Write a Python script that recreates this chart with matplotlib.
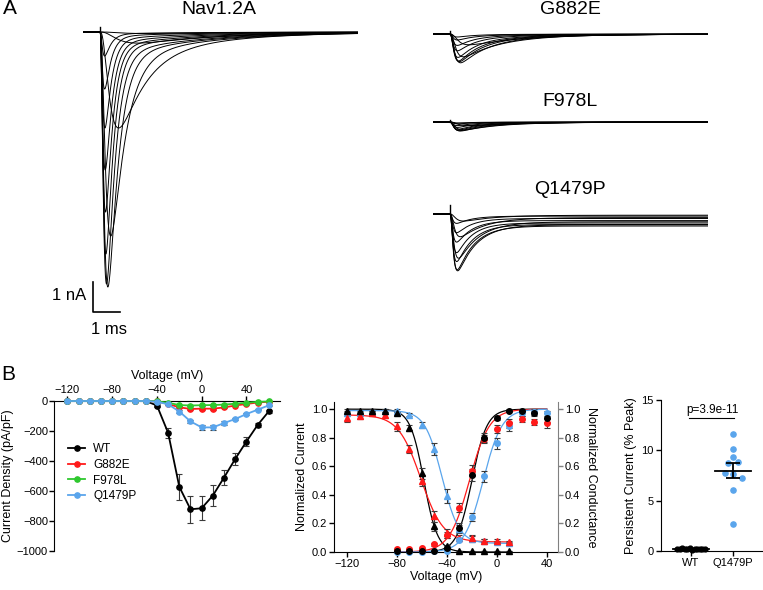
import numpy as np
import matplotlib
matplotlib.use('Agg')
import matplotlib.pyplot as plt
from matplotlib.lines import Line2D

plt.rcParams['font.family'] = ['Liberation Sans', 'DejaVu Sans']

W, H = 763, 590
BLUE = '#5aa5ec'
RED = '#ff1a1a'
GREEN = '#2ec82e'
ERR = '#3a3a3a'

# ---- A: current traces (per-sweep amplitude nA, activation / inactivation tau ms) ----
ONSET = 0.62
nav_amp = [0.05, 0.37, 3.2, 6.8, 8.5, 8.4, 7.4, 6.0, 4.6, 3.2, 1.9, 0.8]
nav_tm = [0.6, 0.45, 0.26, 0.16, 0.12, 0.10, 0.09, 0.085, 0.08, 0.075, 0.07, 0.07]
nav_th = [3.0, 3.0, 0.9, 0.5, 0.36, 0.3, 0.27, 0.25, 0.24, 0.23, 0.22, 0.22]
nav_slow = [0.4, 0.6, 0.15, 0.06, 0.04, 0.035, 0.03, 0.03, 0.03, 0.03, 0.03, 0.03]

g_amp = [0.36, 0.76, 0.96, 0.92, 0.9, 0.78, 0.56, 0.38, 0.2, 0.1]
g_tm = [0.2, 0.14, 0.11, 0.1, 0.09, 0.085, 0.08, 0.08, 0.08, 0.08]
g_th = [2.0, 1.3, 1.0, 0.85, 0.75, 0.7, 0.65, 0.6, 0.6, 0.6]

f_amp = [0.12, 0.27, 0.3, 0.29, 0.27, 0.24, 0.18, 0.12, 0.06, 0.03]
f_tm = [0.2, 0.14, 0.11, 0.1, 0.09, 0.085, 0.08, 0.08, 0.08, 0.08]
f_th = [1.8, 1.2, 1.0, 0.85, 0.75, 0.7, 0.65, 0.6, 0.6, 0.6]

q_amp = [0.24, 0.77, 1.5, 1.93, 1.9, 1.62, 1.32, 0.96, 0.64, 0.32]
q_tm = [0.15, 0.11, 0.09, 0.08, 0.075, 0.07, 0.07, 0.07, 0.07, 0.07]
q_th = [1.1, 0.9, 0.75, 0.68, 0.62, 0.58, 0.55, 0.55, 0.55, 0.55]
q_pers = [0.04, 0.12, 0.26, 0.36, 0.4, 0.35, 0.3, 0.22, 0.15, 0.07]

artifact = {'Nav1.2A': 0.18, 'G882E': 0.1, 'F978L': 0.08, 'Q1479P': 0.3}

# ---- B left: I-V (pA/pF) ----
iv_v = list(range(-120, 61, 10))
wt_iv = [0, 0, 0, 0, 0, 0, 0, 0, -30, -212, -572, -722, -715, -630, -510, -386, -270, -160, -69]
wt_iv_err = [0, 0, 0, 0, 0, 0, 0, 0, 8, 35, 88, 88, 80, 68, 50, 38, 28, 15, 10]
g_iv = [0, 0, 0, 0, 0, 0, 0, -1, -3, -20, -42, -53, -51, -51, -43, -30, -20, -10, -5]
g_iv_err = [0, 0, 0, 0, 0, 0, 0, 0, 1, 3, 5, 7, 7, 7, 6, 5, 4, 3, 2]
f_iv = [0, 0, 0, 0, 0, 0, 0, 0, -2, -12, -27, -30, -28, -27, -24, -18, -12, -6, -3]
f_iv_err = [0, 0, 0, 0, 0, 0, 0, 0, 1, 2, 3, 4, 4, 4, 3, 3, 2, 2, 1]
q_iv = [0, 0, 0, 0, 0, 0, 0, 0, -5, -22, -70, -136, -176, -176, -147, -120, -87, -58, -29]
q_iv_err = [0, 0, 0, 0, 0, 0, 0, 0, 2, 5, 8, 10, 14, 14, 11, 9, 7, 5, 4]

# ---- B middle: inactivation (triangles) and activation (circles) ----
inact_v = list(range(-120, 11, 10))
wt_inact = [0.99, 0.99, 0.99, 0.99, 0.97, 0.87, 0.55, 0.18, 0.04, 0.01, 0.005, 0.005, 0.005, 0.005]
wt_inact_err = [0.01, 0.01, 0.01, 0.01, 0.01, 0.02, 0.04, 0.03, 0.01, 0, 0, 0, 0, 0]
g_inact = [0.94, 0.95, 0.97, 0.96, 0.88, 0.72, 0.50, 0.25, 0.13, 0.10, 0.10, 0.08, 0.08, 0.07]
g_inact_err = [0.03, 0.02, 0.02, 0.02, 0.03, 0.03, 0.04, 0.04, 0.03, 0.02, 0.02, 0.01, 0.01, 0.01]
q_inact = [0.97, 0.97, 0.98, 0.99, 0.99, 0.96, 0.89, 0.72, 0.39, 0.16, 0.09, 0.08, 0.07, 0.06]
q_inact_err = [0.02, 0.02, 0.01, 0.01, 0.01, 0.01, 0.02, 0.04, 0.05, 0.03, 0.02, 0.01, 0.01, 0.01]

act_v = list(range(-80, 41, 10))
wt_act = [0.01, 0.01, 0.01, 0.01, 0.03, 0.17, 0.54, 0.80, 0.94, 0.99, 0.99, 0.97, 0.94]
wt_act_err = [0, 0, 0, 0, 0.01, 0.03, 0.04, 0.03, 0.015, 0.01, 0.01, 0.015, 0.03]
g_act = [0.02, 0.02, 0.03, 0.055, 0.12, 0.31, 0.57, 0.79, 0.86, 0.90, 0.93, 0.91, 0.90]
g_act_err = [0, 0, 0, 0.01, 0.02, 0.03, 0.04, 0.03, 0.03, 0.03, 0.02, 0.02, 0.03]
q_act = [0.0, 0.0, 0.0, 0.005, 0.01, 0.085, 0.245, 0.53, 0.76, 0.88, 0.97, 0.98, 0.97]
q_act_err = [0, 0, 0, 0, 0.01, 0.01, 0.03, 0.04, 0.04, 0.03, 0.02, 0.02, 0.02]

# Boltzmann fit parameters: WT, G882E, Q1479P
act_vhalf = [-20, -22, -11]
act_k = [6, 8, 7.5]
inact_vhalf = [-58.5, -61, -44]
inact_k = [5.5, 9, 6.8]
inact_floor = [0.0, 0.07, 0.06]
inact_top = [1.0, 0.96, 0.99]

# ---- B right: persistent current (% peak) ----
wt_pers = [0.15, 0.2, 0.25, 0.18, 0.22, 0.3, 0.12, 0.2, 0.24, 0.17, 0.21, 0.19]
wt_pers_dx = [-0.33, -0.27, -0.21, -0.15, -0.09, -0.03, 0.03, 0.09, 0.15, 0.21, 0.27, 0.33]
q_pers_pts = [11.6, 10.1, 9.3, 8.8, 8.7, 7.7, 7.6, 7.3, 6.1, 2.7]
q_pers_dx = [0, 0, 0, 0.12, -0.12, -0.2, 0, 0.22, 0, 0]


def px_ax(left, top, right, bottom):
    return fig.add_axes([left / W, 1 - bottom / H, (right - left) / W, (bottom - top) / H])


def ftext(x, y, s, **kw):
    fig.text(x / W, 1 - y / H, s, **kw)


def sweep(t, amp, tm, th, slow=0.0, ts=3.0, pers=0.0):
    tt = np.clip(t - ONSET, 0, None)
    act = (1 - np.exp(-tt / tm)) ** 3
    shape = act * ((1 - slow) * np.exp(-tt / th) + slow * np.exp(-tt / ts))
    return -(amp - pers) * shape / shape.max() - pers * act


def trace_ax(left, base, top, bottom):
    ax = px_ax(left, top, left + 275, bottom)
    ax.set_xlim(0, 10)
    ax.set_ylim(-(bottom - base) / 30.0, (base - top) / 30.0)
    ax.axis('off')
    return ax


fig = plt.figure(figsize=(W / 100, H / 100), dpi=100)
t = np.linspace(0, 10, 3000)

nav = trace_ax(83, 32, 20, 332)
for i in range(len(nav_amp)):
    nav.plot(t, sweep(t, nav_amp[i], nav_tm[i], nav_th[i], nav_slow[i]), color='k', lw=0.7)
nav.plot([ONSET, ONSET], [0, artifact['Nav1.2A']], color='k', lw=1)
# scale bar 1 nA / 1 ms
nav.plot([0.35, 0.35, 1.35], [-8.33, -9.33, -9.33], color='k', lw=1.2, clip_on=False)

gax = trace_ax(433, 34, 22, 80)
for i in range(len(g_amp)):
    gax.plot(t, sweep(t, g_amp[i], g_tm[i], g_th[i], 0.15), color='k', lw=0.7)
gax.plot([ONSET, ONSET], [0, artifact['G882E']], color='k', lw=1)

fax = trace_ax(433, 122, 112, 140)
for i in range(len(f_amp)):
    fax.plot(t, sweep(t, f_amp[i], f_tm[i], f_th[i], 0.15), color='k', lw=0.7)
fax.plot([ONSET, ONSET], [0, artifact['F978L']], color='k', lw=1)

qax = trace_ax(433, 214, 200, 285)
for i in range(len(q_amp)):
    qax.plot(t, sweep(t, q_amp[i], q_tm[i], q_th[i], pers=q_pers[i]), color='k', lw=0.7)
qax.plot([ONSET, ONSET], [0, artifact['Q1479P']], color='k', lw=1)

ftext(3, 9, 'A', fontsize=15, va='center')
ftext(219, 9, 'Nav1.2A', fontsize=14, ha='center', va='center')
ftext(570, 9, 'G882E', fontsize=14, ha='center', va='center')
ftext(570, 101, 'F978L', fontsize=14, ha='center', va='center')
ftext(570, 190, 'Q1479P', fontsize=14, ha='center', va='center')
ftext(86, 296, '1 nA', fontsize=12, ha='right', va='center')
ftext(109, 329, '1 ms', fontsize=12, ha='center', va='center')
ftext(1, 375, 'B', fontsize=15, va='center')

FS = 8
ebkw = dict(ecolor=ERR, elinewidth=0.8, capsize=2.5, capthick=0.8)

# ---- I-V ----
ax1 = px_ax(54, 401, 280, 551)
handles = []
for y, e, c, lab in [(wt_iv, wt_iv_err, 'k', 'WT'), (g_iv, g_iv_err, RED, 'G882E'),
                     (f_iv, f_iv_err, GREEN, 'F978L'), (q_iv, q_iv_err, BLUE, 'Q1479P')]:
    ax1.errorbar(iv_v, y, yerr=e, color=c, marker='o', ms=3.8, lw=1.3,
                 clip_on=False, zorder=3, **ebkw)
    handles.append(Line2D([], [], color=c, marker='o', ms=3.8, lw=1.3, label=lab))
ax1.set_xlim(-132, 70)
ax1.set_ylim(-1000, 0)
ax1.xaxis.tick_top()
ax1.xaxis.set_label_position('top')
ax1.set_xticks([-120, -80, -40, 0, 40])
ax1.set_yticks([0, -200, -400, -600, -800, -1000])
ax1.spines['bottom'].set_visible(False)
ax1.spines['right'].set_visible(False)
ax1.tick_params(labelsize=FS, length=3.3, width=1, pad=1)
ax1.set_xlabel('Voltage (mV)', fontsize=9, labelpad=4)
ax1.set_ylabel('Current Density (pA/pF)', fontsize=9, labelpad=2)
ax1.legend(handles=handles, loc='upper left', bbox_to_anchor=(0.062, 0.72), frameon=False,
           fontsize=8.5, handlelength=1.45, handletextpad=0.7, labelspacing=0.32, borderpad=0,
           borderaxespad=0)

# ---- activation / inactivation ----
ax2 = px_ax(334, 402, 558, 552)
vi = np.linspace(-120, 10, 300)
va = np.linspace(-80, 40, 300)
cols = ['k', RED, BLUE]
for j in range(3):
    h = inact_floor[j] + (inact_top[j] - inact_floor[j]) / (1 + np.exp((vi - inact_vhalf[j]) / inact_k[j]))
    ax2.plot(vi, h, color=cols[j], lw=0.9)
    g = 1 / (1 + np.exp((act_vhalf[j] - va) / act_k[j]))
    ax2.plot(va, g, color=cols[j], lw=0.9)
for y, e, c in [(q_inact, q_inact_err, BLUE), (g_inact, g_inact_err, RED), (wt_inact, wt_inact_err, 'k')]:
    ax2.errorbar(inact_v, y, yerr=e, color=c, marker='^', ms=3.8, ls='none', clip_on=False, zorder=3, **ebkw)
for y, e, c in [(q_act, q_act_err, BLUE), (g_act, g_act_err, RED), (wt_act, wt_act_err, 'k')]:
    ax2.errorbar(act_v, y, yerr=e, color=c, marker='o', ms=4, ls='none', clip_on=False, zorder=3, **ebkw)
ax2.set_xlim(-130.5, 49)
ax2.set_ylim(0, 1.05)
ax2.set_xticks([-120, -80, -40, 0, 40])
ax2.set_yticks([0, 0.2, 0.4, 0.6, 0.8, 1.0])
ax2.set_yticklabels(['%.1f' % v for v in [0, 0.2, 0.4, 0.6, 0.8, 1.0]])
ax2.spines['top'].set_visible(False)
ax2.spines['right'].set_visible(False)
ax2.tick_params(labelsize=FS, length=3.3, width=1, pad=1.5)
ax2.set_xlabel('Voltage (mV)', fontsize=9, labelpad=2)
ax2.set_ylabel('Normalized Current', fontsize=9, labelpad=3)
ax2r = ax2.twinx()
ax2r.set_ylim(0, 1.05)
ax2r.set_yticks([0, 0.2, 0.4, 0.6, 0.8, 1.0])
ax2r.set_yticklabels(['%.1f' % v for v in [0, 0.2, 0.4, 0.6, 0.8, 1.0]])
for s in ['top', 'left', 'bottom']:
    ax2r.spines[s].set_visible(False)
ax2r.spines['right'].set_color('#808080')
ax2r.tick_params(labelsize=FS, length=3.3, width=1, color='#808080', pad=1.5)
ax2r.set_ylabel('Normalized Conductance', fontsize=9, rotation=270, labelpad=12)

# ---- persistent current ----
ax3 = px_ax(661, 400, 763, 551)
ax3.scatter(np.array(wt_pers_dx), wt_pers, s=12, color='k', zorder=3, clip_on=False)
ax3.scatter(1 + np.array(q_pers_dx), q_pers_pts, s=14, color=BLUE, zorder=3, clip_on=False)
for x0, pts in [(0, wt_pers), (1, q_pers_pts)]:
    m = np.mean(pts)
    sem = np.std(pts, ddof=1) / np.sqrt(len(pts))
    ax3.plot([x0 - 0.43, x0 + 0.43], [m, m], color='k', lw=1.3, zorder=4)
    ax3.errorbar([x0], [m], yerr=[sem], color='k', elinewidth=1.3, capsize=5, capthick=1.3, zorder=4)
ax3.plot([-0.05, 1.02], [13.2, 13.2], color='k', lw=0.8)
ax3.text(0.5, 14.0, 'p=3.9e-11', ha='center', va='center', fontsize=8.5)
ax3.set_xlim(-0.714, 1.714)
ax3.set_ylim(0, 15)
ax3.set_xticks([0, 1])
ax3.set_xticklabels(['WT', 'Q1479P'])
ax3.set_yticks([0, 5, 10, 15])
ax3.spines['top'].set_visible(False)
ax3.spines['right'].set_visible(False)
ax3.tick_params(labelsize=FS, length=3.3, width=1, pad=2)
ax3.set_ylabel('Persistent Current (% Peak)', fontsize=9, labelpad=3)

fig.savefig('out.png', dpi=100)
